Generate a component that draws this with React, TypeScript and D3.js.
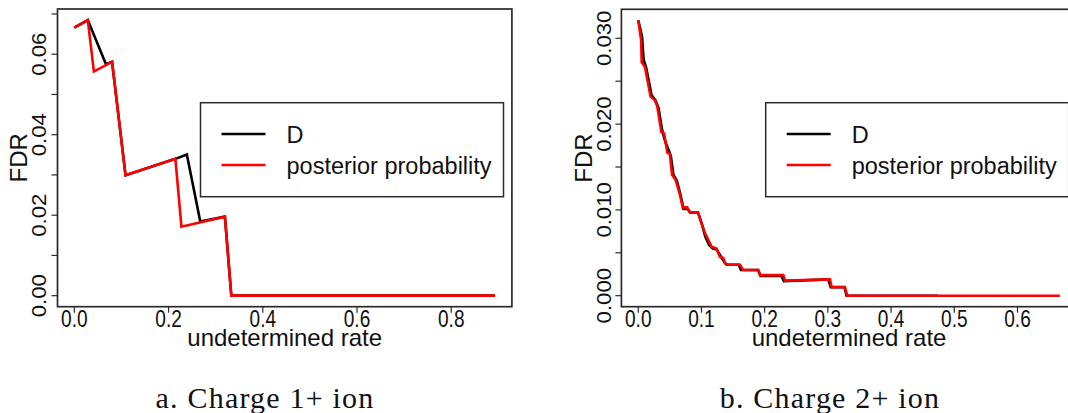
import React from "react";
import * as d3 from "d3";

// ---------- data ----------
// Panel a: Charge 1+ ion
const aDx = [0, 0.0286, 0.0672, 0.0801, 0.1087, 0.2145, 0.2388, 0.2674, 0.3196, 0.3332, 0.893];
const aDy = [0.0666, 0.0685, 0.0575, 0.0581, 0.0299, 0.034, 0.0351, 0.0184, 0.01964, 0, 0];
const aPx = [0, 0.0286, 0.0415, 0.0801, 0.1087, 0.2145, 0.2273, 0.3196, 0.3332, 0.893];
const aPy = [0.0666, 0.0685, 0.0557, 0.0581, 0.0299, 0.034, 0.01715, 0.01964, 0, 0];

// Panel b: Charge 2+ ion
const bDx = [0, 0.006, 0.0085, 0.0125, 0.021, 0.027, 0.032, 0.038, 0.0435, 0.048, 0.0515, 0.0555, 0.061, 0.067, 0.0715, 0.078, 0.0825, 0.0945, 0.1005, 0.106, 0.112, 0.118, 0.124, 0.1345, 0.1385, 0.1405, 0.159, 0.1625, 0.1895, 0.1935, 0.2265, 0.2305, 0.3006, 0.3045, 0.3265, 0.3295, 0.474];
const bDy = [0.0321, 0.0302, 0.0275, 0.0266, 0.0234, 0.0228, 0.0219, 0.0192, 0.0178, 0.017, 0.0163, 0.0141, 0.0134, 0.0117, 0.0101, 0.0101, 0.0097, 0.0097, 0.0084, 0.0069, 0.0059, 0.0055, 0.0054, 0.0041, 0.0037, 0.0036, 0.0036, 0.003, 0.003, 0.0023, 0.0023, 0.0017, 0.0019, 0.001, 0.001, 0, 0];
const bPx = [0, 0.0045, 0.0055, 0.0105, 0.0195, 0.026, 0.03, 0.0365, 0.041, 0.0459, 0.05, 0.0535, 0.059, 0.0655, 0.0705, 0.0775, 0.0815, 0.0945, 0.1002, 0.1055, 0.1108, 0.116, 0.124, 0.129, 0.1345, 0.137, 0.1424, 0.161, 0.166, 0.19, 0.1926, 0.2295, 0.232, 0.3033, 0.306, 0.327, 0.3307, 0.667];
const bPy = [0.0321, 0.0298, 0.0272, 0.0267, 0.0232, 0.0228, 0.0221, 0.0191, 0.0189, 0.0167, 0.0165, 0.0141, 0.0135, 0.0119, 0.0103, 0.0103, 0.0097, 0.0097, 0.0084, 0.0073, 0.0065, 0.0057, 0.0055, 0.00454, 0.0044, 0.0038, 0.0036, 0.0036, 0.003, 0.003, 0.0024, 0.0024, 0.00175, 0.0019, 0.00098, 0.00098, 0, 0];

const aXTicks = [0, 0.2, 0.4, 0.6, 0.8];
const aXLabels = ["0.0", "0.2", "0.4", "0.6", "0.8"];
const aYTicks = [0, 0.01, 0.02, 0.03, 0.04, 0.05, 0.06, 0.07];
const aYLabelVals = [0, 0.02, 0.04, 0.06];
const aYLabels = ["0.00", "0.02", "0.04", "0.06"];

const bXTicks = [0, 0.1, 0.2, 0.3, 0.4, 0.5, 0.6];
const bXLabels = ["0.0", "0.1", "0.2", "0.3", "0.4", "0.5", "0.6"];
const bYTicks = [0, 0.005, 0.01, 0.015, 0.02, 0.025, 0.03];
const bYLabelVals = [0, 0.01, 0.02, 0.03];
const bYLabels = ["0.000", "0.010", "0.020", "0.030"];

const seriesNames = ["D", "posterior probability"];
const seriesColors = ["#000000", "#ff0000"];
const captions = ["a. Charge 1+ ion", "b. Charge 2+ ion"];

type PanelProps = {
  dx: number[]; dy: number[]; px: number[]; py: number[];
  xTicks: number[]; xLabels: string[];
  yTicks: number[]; yLabelVals: number[]; yLabels: string[];
  left: number; right: number; top: number; bottom: number;
  yLabOff: number; fdrX: number; legLeft: number; caption: string; capX: number;
};

const pad = (ext: [number, number]) => {
  const r = ext[1] - ext[0];
  return [ext[0] - 0.04 * r, ext[1] + 0.04 * r];
};

function Panel(p: PanelProps) {
  const allX = [...p.dx, ...p.px];
  const allY = [...p.dy, ...p.py];
  const x = d3.scaleLinear().domain(pad(d3.extent(allX) as [number, number])).range([p.left, p.right]);
  const y = d3.scaleLinear().domain(pad(d3.extent(allY) as [number, number])).range([p.bottom, p.top]);
  const line = d3.line<[number, number]>().x((d) => x(d[0])).y((d) => y(d[1]));
  const dPts = p.dx.map((v, i) => [v, p.dy[i]] as [number, number]);
  const pPts = p.px.map((v, i) => [v, p.py[i]] as [number, number]);
  const x0 = x.range()[0];
  const y0 = y.range()[0];
  const cx = (p.left + p.right) / 2;
  const cy = (p.top + p.bottom) / 2;
  const font = "'Liberation Sans', Arial, sans-serif";
  return (
    <g>
      <path d={line(dPts) || ""} fill="none" stroke={seriesColors[0]} strokeWidth={2.6} strokeLinejoin="miter" />
      <path d={line(pPts) || ""} fill="none" stroke={seriesColors[1]} strokeWidth={2.6} strokeLinejoin="miter" />
      <rect x={p.left} y={p.top} width={p.right - p.left} height={p.bottom - p.top} fill="none" stroke="#2a2a2a" strokeWidth={1.7} />
      {p.xTicks.map((t, i) => (
        <g key={"xt" + i}>
          <line x1={x(t)} x2={x(t)} y1={y0} y2={y0 + 6} stroke="#2a2a2a" strokeWidth={1.2} />
          <text transform={`translate(${x(t)},326.5) scale(0.83,1)`} textAnchor="middle" fontFamily={font} fontSize={23} fill="#111">{p.xLabels[i]}</text>
        </g>
      ))}
      {p.yTicks.map((t, i) => (
        <line key={"yt" + i} x1={x0 - 6} x2={x0} y1={y(t)} y2={y(t)} stroke="#2a2a2a" strokeWidth={1.2} />
      ))}
      {p.yLabelVals.map((t, i) => (
        <text key={"yl" + i} transform={`translate(${p.left - p.yLabOff},${y(t)}) rotate(-90) scale(1.08,1)`} textAnchor="middle" fontFamily={font} fontSize={20.5} fill="#111">{p.yLabels[i]}</text>
      ))}
      <text x={cx} y={346} textAnchor="middle" fontFamily={font} fontSize={24} fill="#111">undetermined rate</text>
      <text transform={`translate(${p.fdrX},${cy}) rotate(-90)`} textAnchor="middle" fontFamily={font} fontSize={24} fill="#111">FDR</text>
      <g>
        <rect x={p.legLeft} y={102.7} width={303} height={94} fill="white" stroke="#2a2a2a" strokeWidth={1.5} />
        {seriesNames.map((n, i) => (
          <g key={"lg" + i}>
            <line x1={p.legLeft + 21} x2={p.legLeft + 65} y1={134 + i * 31} y2={134 + i * 31} stroke={seriesColors[i]} strokeWidth={2.6} />
            <text x={p.legLeft + 86} y={143.3 + i * 31} fontFamily={font} fontSize={23.5} fill="#111">{n}</text>
          </g>
        ))}
      </g>
      <text x={p.capX} y={407.5} textAnchor="middle" fontFamily="'Liberation Serif', 'Times New Roman', serif" fontSize={30} letterSpacing={1.2} fill="#111">{p.caption}</text>
    </g>
  );
}

export default function App() {
  return (
    <svg width={1068} height={413} style={{ position: "absolute", left: 0, top: 0, background: "white" }}>
      <Panel dx={aDx} dy={aDy} px={aPx} py={aPy} xTicks={aXTicks} xLabels={aXLabels}
        yTicks={aYTicks} yLabelVals={aYLabelVals} yLabels={aYLabels}
        left={57.5} right={511.9} top={9} bottom={306.7} yLabOff={11.8} fdrX={26.7}
        legLeft={200.5} caption={captions[0]} capX={265} />
      <Panel dx={bDx} dy={bDy} px={bPx} py={bPy} xTicks={bXTicks} xLabels={bXLabels}
        yTicks={bYTicks} yLabelVals={bYLabelVals} yLabels={bYLabels}
        left={621.4} right={1076.7} top={9.3} bottom={306.7} yLabOff={10} fdrX={591.7}
        legLeft={765.7} caption={captions[1]} capX={830} />
    </svg>
  );
}
